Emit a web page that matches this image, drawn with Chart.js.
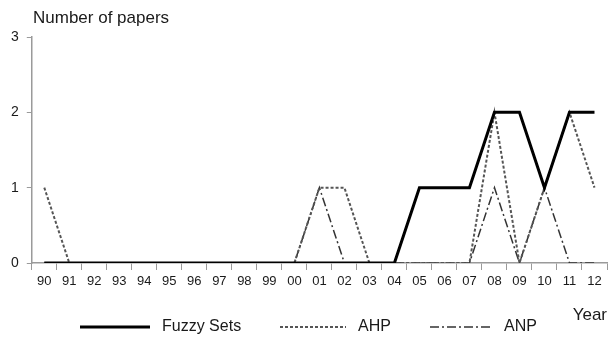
<!DOCTYPE html>
<html>
<head>
<meta charset="utf-8">
<script src="https://cdn.jsdelivr.net/npm/chart.js@4.4.0/dist/chart.umd.min.js"></script>
<style>
  html, body { margin: 0; padding: 0; background: #fff; }
  #wrap { width: 610px; height: 337px; position: relative; }
</style>
</head>
<body>
<div id="wrap"><canvas id="papersChart"></canvas></div>
<script>
// Data
const years = ['90', '91', '92', '93', '94', '95', '96', '97', '98', '99', '00', '01',
               '02', '03', '04', '05', '06', '07', '08', '09', '10', '11', '12'];
const fuzzySets = [0, 0, 0, 0, 0, 0, 0, 0, 0, 0, 0, 0, 0, 0, 0, 1, 1, 1, 2, 2, 1, 2, 2];
const ahp       = [1, 0, 0, 0, 0, 0, 0, 0, 0, 0, 0, 1, 1, 0, 0, 0, 0, 0, 2, 0, 1, 2, 1];
const anp       = [0, 0, 0, 0, 0, 0, 0, 0, 0, 0, 0, 1, 0, 0, 0, 0, 0, 0, 1, 0, 1, 0, 0];
const yTicks = [0, 1, 2, 3];

const fontFamily = 'Arial, "Liberation Sans", sans-serif';
const axisColor = '#9a9a9a';
const textColor = '#1a1a1a';

// Draws the y-axis caption and the legend row at the bottom
const annotations = {
    id: 'annotations',
    afterDraw(chart) {
        const ctx = chart.ctx;
        ctx.save();
        ctx.fillStyle = textColor;
        ctx.font = '17px ' + fontFamily;
        ctx.textBaseline = 'middle';
        ctx.textAlign = 'left';
        ctx.fillText('Number of papers', 33, 18);

        // legend
        const items = [
            { x: 80, len: 70 },
            { x: 280, len: 66 },
            { x: 430, len: 62 }
        ];
        const y = 327;
        ctx.font = '16px ' + fontFamily;
        chart.data.datasets.forEach((ds, i) => {
            const it = items[i];
            ctx.beginPath();
            ctx.strokeStyle = ds.borderColor;
            ctx.lineWidth = ds.borderWidth;
            ctx.setLineDash(ds.borderDash || []);
            ctx.moveTo(it.x, y);
            ctx.lineTo(it.x + it.len, y);
            ctx.stroke();
            ctx.setLineDash([]);
            ctx.fillText(ds.label, it.x + it.len + 12, y);
        });
        ctx.restore();
    }
};

new Chart(document.getElementById('papersChart'), {
    type: 'line',
    data: {
        labels: years,
        datasets: [{
            label: 'Fuzzy Sets',
            data: fuzzySets,
            borderColor: '#000000',
            borderWidth: 3,
            pointRadius: 0,
            tension: 0
        }, {
            label: 'AHP',
            data: ahp,
            borderColor: '#555555',
            borderWidth: 2,
            borderDash: [3, 2],
            pointRadius: 0,
            tension: 0
        }, {
            label: 'ANP',
            data: anp,
            borderColor: '#333333',
            borderWidth: 1.5,
            borderDash: [9, 3, 2, 3],
            pointRadius: 0,
            tension: 0
        }]
    },
    options: {
        responsive: true,
        maintainAspectRatio: false,
        animation: false,
        layout: {
            padding: { top: 37, left: 3, right: 3, bottom: 11 }
        },
        plugins: {
            legend: { display: false },
            tooltip: { enabled: false }
        },
        scales: {
            x: {
                type: 'category',
                offset: true,
                grid: {
                    offset: true,
                    drawOnChartArea: false,
                    color: axisColor,
                    lineWidth: 1,
                    tickLength: 7
                },
                border: { color: axisColor, width: 1.5 },
                ticks: {
                    color: textColor,
                    font: { family: fontFamily, size: 13 },
                    padding: 4,
                    maxRotation: 0,
                    autoSkip: false
                },
                title: {
                    display: true,
                    text: 'Year',
                    align: 'end',
                    color: textColor,
                    font: { family: fontFamily, size: 17 },
                    padding: { top: 12, bottom: 0 }
                }
            },
            y: {
                min: 0,
                max: 3,
                afterBuildTicks: axis => { axis.ticks = yTicks.map(v => ({ value: v })); },
                grid: {
                    drawOnChartArea: false,
                    color: axisColor,
                    tickLength: 5
                },
                border: { color: axisColor, width: 1.5 },
                ticks: {
                    color: textColor,
                    font: { family: fontFamily, size: 14 },
                    padding: 8
                }
            }
        }
    },
    plugins: [annotations]
});
</script>
</body>
</html>
